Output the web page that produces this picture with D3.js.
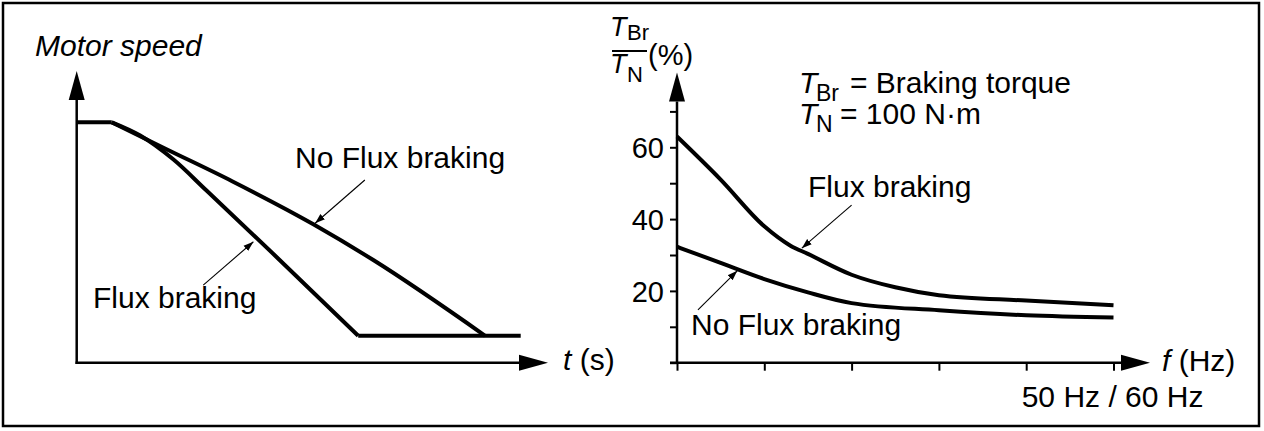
<!DOCTYPE html>
<html><head><meta charset="utf-8">
<script src="https://cdn.jsdelivr.net/npm/d3@7/dist/d3.min.js"></script>
<style>
html,body{margin:0;padding:0;background:#fff;}
svg{display:block;font-family:"Liberation Sans",Arial,sans-serif;}
</style></head>
<body>
<svg id="c" width="1264" height="431"></svg>
<script>
// ---- Left chart: motor speed vs time (arbitrary units) ----
const timeDomain = [0, 10];
const speedDomain = [0, 100];
const plateauT = [0, 0.79];
const plateauV = [100, 100];
const noFluxSpeedT = [0.79, 2.0, 3.5, 5.33, 6.68, 9.2];
const noFluxSpeedV = [100, 89, 75.5, 57.6, 42.7, 11.2];
const fluxSpeedT = [0.79, 1.43, 2.18, 2.93, 4.5, 6.34];
const fluxSpeedV = [100, 94.5, 84.5, 71.5, 44, 11.2];
const floorT = [6.34, 10];
const floorV = [11.2, 11.2];

// ---- Right chart: braking torque (% of T_N) vs frequency ----
const freqDomain = [0, 50];
const torqueDomain = [0, 70];
const freqTicks = [0, 10, 20, 30, 40, 50];
const torqueTicks = [0, 10, 20, 30, 40, 50, 60, 70];
const torqueTickLabels = {20: "20", 40: "40", 60: "60"};
const fluxFreq = [0, 5, 10, 13, 15, 20, 25, 30, 40, 50];
const fluxTorque = [63, 51, 38, 32.6, 30.3, 24.5, 21, 18.8, 17.3, 16];
const noFluxFreq = [0, 5, 10, 15, 20, 30, 40, 50];
const noFluxTorque = [32.3, 27.8, 23.3, 19.6, 16.6, 14.6, 13.2, 12.6];

const svg = d3.select("#c");
const FS = 30;

// frame
svg.append("rect").attr("x", 3).attr("y", 3).attr("width", 1256).attr("height", 423)
  .attr("fill", "none").attr("stroke", "#000").attr("stroke-width", 2.5);

const defs = svg.append("defs");
defs.append("marker").attr("id", "ah").attr("viewBox", "0 0 10 10").attr("refX", 10).attr("refY", 5)
  .attr("markerWidth", 10).attr("markerHeight", 10).attr("markerUnits", "userSpaceOnUse").attr("orient", "auto")
  .append("path").attr("d", "M0,1.5 L10,5 L0,8.5 Z").attr("fill", "#000");

function axisArrow(g, x1, y1, x2, y2) {
  const ang = Math.atan2(y2 - y1, x2 - x1);
  const L = 29, W = 8;
  const bx = x2 - L * Math.cos(ang), by = y2 - L * Math.sin(ang);
  const px = -Math.sin(ang) * W, py = Math.cos(ang) * W;
  g.append("line").attr("x1", x1).attr("y1", y1).attr("x2", bx).attr("y2", by)
    .attr("stroke", "#000").attr("stroke-width", 2.5);
  g.append("path").attr("d", `M${x2},${y2}L${bx + px},${by + py}L${bx - px},${by - py}Z`).attr("fill", "#000");
}

// ===== LEFT =====
const xL = d3.scaleLinear().domain(timeDomain).range([76.7, 520.7]);
const yL = d3.scaleLinear().domain(speedDomain).range([362.7, 122.3]);
const gL = svg.append("g");
axisArrow(gL, xL(0), yL(0) + 1.2, xL(0), 71);
axisArrow(gL, xL(0) - 1.2, yL(0), 548, yL(0));

const lineL = d3.line().x(d => xL(d[0])).y(d => yL(d[1]));
const lineLc = d3.line().x(d => xL(d[0])).y(d => yL(d[1])).curve(d3.curveMonotoneX);
function stroke(sel) {
  return sel.attr("fill", "none").attr("stroke", "#000").attr("stroke-width", 4).attr("stroke-linejoin", "miter");
}
stroke(gL.append("path").datum(d3.zip(plateauT, plateauV)).attr("d", lineL));
stroke(gL.append("path").datum(d3.zip(noFluxSpeedT, noFluxSpeedV)).attr("d", lineLc));
stroke(gL.append("path").datum(d3.zip(fluxSpeedT, fluxSpeedV)).attr("d", lineLc));
stroke(gL.append("path").datum(d3.zip(floorT, floorV)).attr("d", lineL));

const leftArrows = [[[6.49, 76.0], [5.37, 58.0]], [[2.85, 32.3], [3.98, 50.3]]];
leftArrows.forEach(a => gL.append("line")
  .attr("x1", xL(a[0][0])).attr("y1", yL(a[0][1])).attr("x2", xL(a[1][0])).attr("y2", yL(a[1][1]))
  .attr("stroke", "#000").attr("stroke-width", 1.1).attr("marker-end", "url(#ah)"));

gL.append("text").attr("x", 35).attr("y", 56).attr("font-size", FS).attr("font-style", "italic").text("Motor speed");
gL.append("text").attr("x", 295).attr("y", 168).attr("font-size", FS).text("No Flux braking");
gL.append("text").attr("x", 93).attr("y", 308).attr("font-size", FS).text("Flux braking");
const ts = gL.append("text").attr("x", 563).attr("y", 370).attr("font-size", FS);
ts.append("tspan").attr("font-style", "italic").text("t");
ts.append("tspan").text(" (s)");

// ===== RIGHT =====
const xR = d3.scaleLinear().domain(freqDomain).range([677, 1113.5]);
const yR = d3.scaleLinear().domain(torqueDomain).range([362.7, 111.4]);
const gR = svg.append("g");
axisArrow(gR, xR(0), yR(0) + 1.2, xR(0), 72.5);
axisArrow(gR, xR(0) - 7, yR(0), 1150, yR(0));

const yAx = d3.axisLeft(yR).tickValues(torqueTicks).tickSize(7).tickFormat(d => torqueTickLabels[d] || "").tickPadding(6);
const ya = gR.append("g").attr("transform", `translate(${xR(0)},0)`).call(yAx);
ya.select(".domain").remove();
ya.selectAll(".tick line").attr("stroke", "#000").attr("stroke-width", 2);
ya.selectAll(".tick text").attr("font-size", 29).attr("font-family", "Liberation Sans, Arial, sans-serif").attr("fill", "#000").attr("dy", "0.36em");

const xAx = d3.axisBottom(xR).tickValues(freqTicks).tickSize(8).tickFormat("");
const xa = gR.append("g").attr("transform", `translate(0,${yR(0)})`).call(xAx);
xa.select(".domain").remove();
xa.selectAll(".tick line").attr("stroke", "#000").attr("stroke-width", 2);

const lineR = d3.line().x(d => xR(d[0])).y(d => yR(d[1])).curve(d3.curveMonotoneX);
gR.append("path").datum(d3.zip(fluxFreq, fluxTorque)).attr("d", lineR)
  .attr("fill", "none").attr("stroke", "#000").attr("stroke-width", 4);
gR.append("path").datum(d3.zip(noFluxFreq, noFluxTorque)).attr("d", lineR)
  .attr("fill", "none").attr("stroke", "#000").attr("stroke-width", 4);

const rightArrows = [[[20.0, 43.9], [14.3, 31.9]], [[2.4, 14.7], [6.9, 25.6]]];
rightArrows.forEach(a => gR.append("line")
  .attr("x1", xR(a[0][0])).attr("y1", yR(a[0][1])).attr("x2", xR(a[1][0])).attr("y2", yR(a[1][1]))
  .attr("stroke", "#000").attr("stroke-width", 1.1).attr("marker-end", "url(#ah)"));

gR.append("text").attr("x", 808).attr("y", 197).attr("font-size", FS).text("Flux braking");
gR.append("text").attr("x", 691).attr("y", 335).attr("font-size", FS).text("No Flux braking");
gR.append("text").attr("x", 1021.7).attr("y", 406.7).attr("font-size", FS).text("50 Hz / 60 Hz");
const fh = gR.append("text").attr("x", 1162).attr("y", 371).attr("font-size", FS);
fh.append("tspan").attr("font-style", "italic").text("f");
fh.append("tspan").text(" (Hz)");

// y title fraction
gR.append("text").attr("x", 610).attr("y", 36).attr("font-size", 27).attr("font-style", "italic").text("T");
gR.append("text").attr("x", 627).attr("y", 40).attr("font-size", 22).text("Br");
gR.append("line").attr("x1", 612).attr("x2", 647).attr("y1", 51).attr("y2", 51).attr("stroke", "#000").attr("stroke-width", 1.8);
gR.append("text").attr("x", 610).attr("y", 73).attr("font-size", 27).attr("font-style", "italic").text("T");
gR.append("text").attr("x", 627).attr("y", 82).attr("font-size", 22).text("N");
gR.append("text").attr("x", 648).attr("y", 65).attr("font-size", 29).text("(%)");

// definitions
gR.append("text").attr("x", 799).attr("y", 93).attr("font-size", FS).attr("font-style", "italic").text("T");
gR.append("text").attr("x", 816).attr("y", 101).attr("font-size", 23).text("Br");
gR.append("text").attr("x", 850).attr("y", 93).attr("font-size", FS).text("= Braking torque");
gR.append("text").attr("x", 799).attr("y", 123.5).attr("font-size", FS).attr("font-style", "italic").text("T");
gR.append("text").attr("x", 816).attr("y", 132).attr("font-size", 23).text("N");
gR.append("text").attr("x", 840).attr("y", 123.5).attr("font-size", FS).text("= 100 N·m");
</script>
</body></html>
